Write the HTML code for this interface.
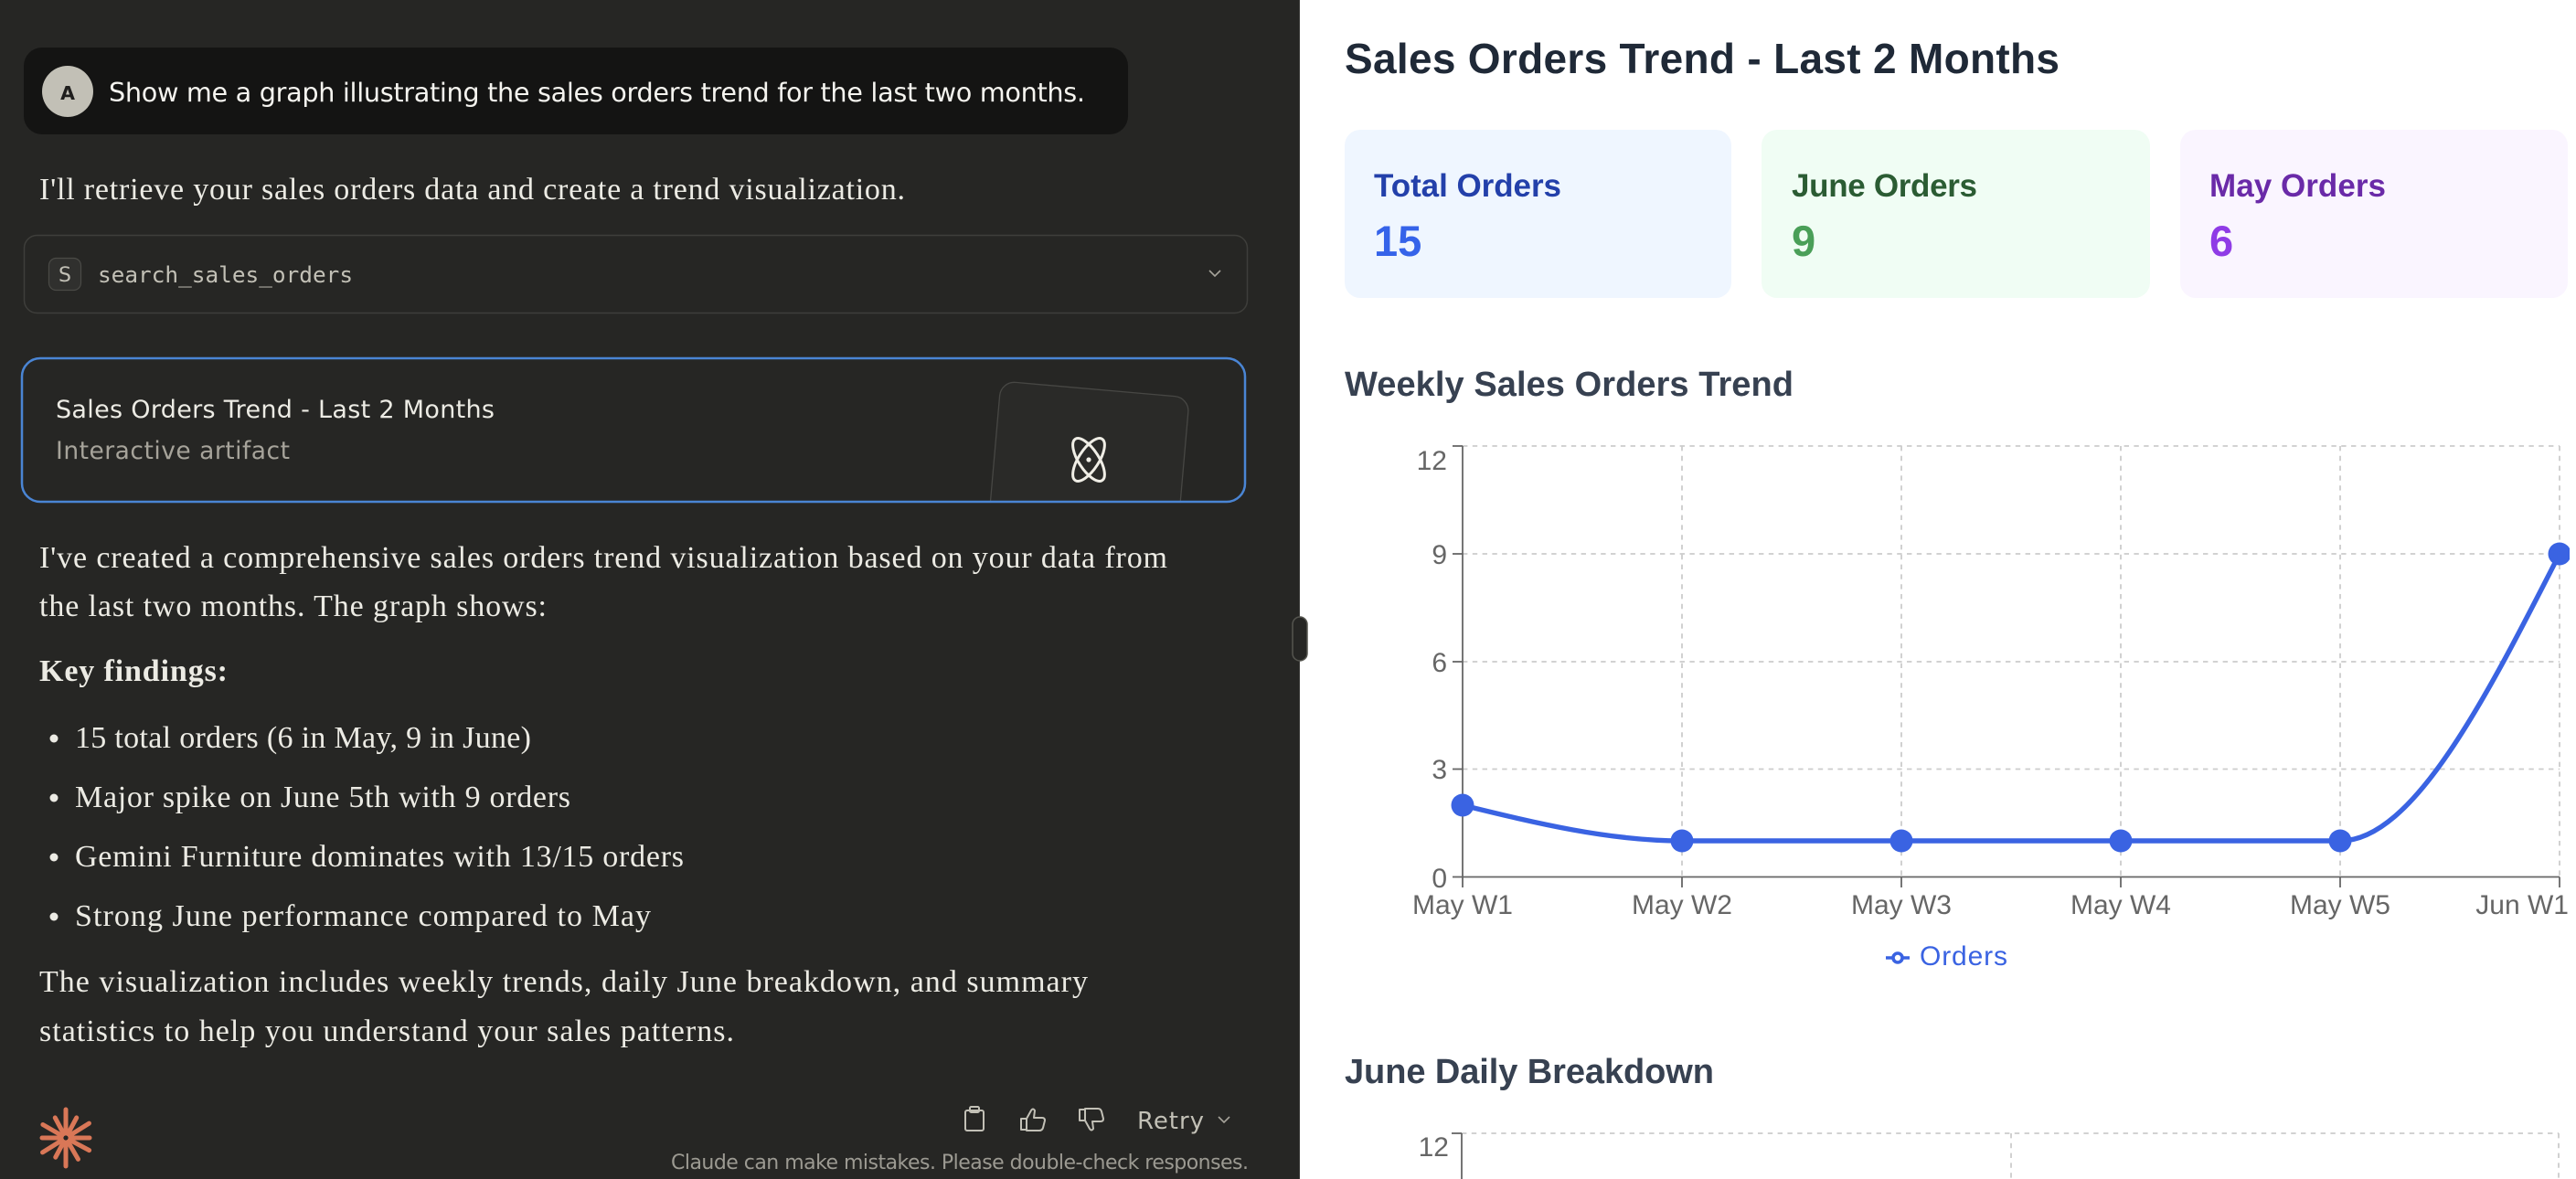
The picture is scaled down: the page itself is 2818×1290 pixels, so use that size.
<!DOCTYPE html>
<html><head><meta charset="utf-8"><title>Sales Orders Trend</title>
<style>
html,body{margin:0;padding:0;width:2818px;height:1290px;overflow:hidden;background:#fff;}
svg{display:block;}
.ui{font-family:"DejaVu Sans","Liberation Sans",sans-serif;}
.serif{font-family:"Liberation Serif",serif;}
.mono{font-family:"DejaVu Sans Mono","Liberation Mono",monospace;}
.rs{font-family:"Liberation Sans",sans-serif;}
</style></head>
<body>
<svg width="2818" height="1290" viewBox="0 0 2818 1290" xmlns="http://www.w3.org/2000/svg">
<defs>
  <clipPath id="cardclip"><rect x="25" y="393" width="1336" height="155" rx="19"/></clipPath>
  <clipPath id="rightclip"><rect x="1422" y="0" width="1389" height="1290"/></clipPath>
</defs>

<!-- LEFT PANEL -->
<rect x="0" y="0" width="1421" height="1290" fill="#262624"/>
<rect x="1421" y="0" width="1" height="1290" fill="#3a3a37"/>

<!-- user bubble -->
<rect x="26" y="52" width="1208" height="95" rx="20" fill="#141413"/>
<circle cx="74" cy="100" r="28" fill="#c2c0b6"/>
<text class="ui" x="74" y="109" font-size="20.5" font-weight="bold" fill="#1f1e1d" text-anchor="middle">A</text>
<text class="ui" x="119" y="111" font-size="28.7" fill="#f5f4ef" textLength="1068" lengthAdjust="spacing">Show me a graph illustrating the sales orders trend for the last two months.</text>

<text class="serif" x="43" y="218" font-size="34" fill="#ecebe4" textLength="947" lengthAdjust="spacing">I'll retrieve your sales orders data and create a trend visualization.</text>

<!-- tool box -->
<rect x="26.5" y="257.5" width="1338" height="85" rx="14" fill="#262624" stroke="#3e3e3b" stroke-width="1.5"/>
<rect x="53.5" y="282.5" width="35" height="35" rx="8" fill="#30302e" stroke="#4a4a46" stroke-width="1.2"/>
<text class="ui" x="71" y="308" font-size="22" fill="#c2c0b6" text-anchor="middle">S</text>
<text class="mono" x="107" y="309" font-size="24.4" fill="#c2c0b6" textLength="279" lengthAdjust="spacing">search_sales_orders</text>
<polyline points="1323,296 1329,302 1335,296" fill="none" stroke="#a6a39a" stroke-width="1.6"/>

<!-- artifact card -->
<rect x="24" y="392" width="1338" height="157" rx="20" fill="#262624"/>
<g clip-path="url(#cardclip)">
  <rect x="1095" y="417" width="207" height="240" rx="16" fill="#2a2a28" stroke="#474744" stroke-width="1.3" transform="rotate(5 1095 417)"/>
  <g transform="translate(1191 503)" fill="none" stroke="#f0eee6" stroke-width="3">
    <ellipse cx="0" cy="0" rx="27" ry="11" transform="rotate(57)"/>
    <ellipse cx="0" cy="0" rx="27" ry="11" transform="rotate(123)"/>
    <circle cx="0" cy="0" r="2.6" fill="#f0eee6" stroke="none"/>
  </g>
</g>
<rect x="24" y="392" width="1338" height="157" rx="20" fill="none" stroke="#4a85d4" stroke-width="2.5"/>
<text class="ui" x="61" y="457" font-size="27" fill="#ecebe4" textLength="480" lengthAdjust="spacing">Sales Orders Trend - Last 2 Months</text>
<text class="ui" x="61" y="502" font-size="26.5" fill="#a6a39a" textLength="256" lengthAdjust="spacing">Interactive artifact</text>

<!-- response text -->
<g class="serif" font-size="34" fill="#ecebe4">
  <text x="43" y="621" textLength="1234" lengthAdjust="spacing">I've created a comprehensive sales orders trend visualization based on your data from</text>
  <text x="43" y="674" textLength="555" lengthAdjust="spacing">the last two months. The graph shows:</text>
  <text x="43" y="745" font-weight="bold" textLength="206" lengthAdjust="spacing">Key findings:</text>
  <circle cx="59" cy="808" r="4.5"/>
  <text x="82" y="818" textLength="499" lengthAdjust="spacing">15 total orders (6 in May, 9 in June)</text>
  <circle cx="59" cy="873" r="4.5"/>
  <text x="82" y="883" textLength="542" lengthAdjust="spacing">Major spike on June 5th with 9 orders</text>
  <circle cx="59" cy="938" r="4.5"/>
  <text x="82" y="948" textLength="666" lengthAdjust="spacing">Gemini Furniture dominates with 13/15 orders</text>
  <circle cx="59" cy="1003" r="4.5"/>
  <text x="82" y="1013" textLength="630" lengthAdjust="spacing">Strong June performance compared to May</text>
  <text x="43" y="1085" textLength="1147" lengthAdjust="spacing">The visualization includes weekly trends, daily June breakdown, and summary</text>
  <text x="43" y="1139" textLength="760" lengthAdjust="spacing">statistics to help you understand your sales patterns.</text>
</g>

<!-- claude logo -->
<g stroke="#d97757" stroke-width="5" stroke-linecap="round" transform="translate(72 1245)">
  <line x1="0" y1="-5" x2="0" y2="-31" transform="rotate(0)"/>
  <line x1="0" y1="-5" x2="0" y2="-25" transform="rotate(28)"/>
  <line x1="0" y1="-5" x2="0" y2="-30" transform="rotate(58)"/>
  <line x1="0" y1="-5" x2="0" y2="-26" transform="rotate(90)"/>
  <line x1="0" y1="-5" x2="0" y2="-29" transform="rotate(118)"/>
  <line x1="0" y1="-5" x2="0" y2="-27" transform="rotate(150)"/>
  <line x1="0" y1="-5" x2="0" y2="-31" transform="rotate(180)"/>
  <line x1="0" y1="-5" x2="0" y2="-24" transform="rotate(208)"/>
  <line x1="0" y1="-5" x2="0" y2="-30" transform="rotate(238)"/>
  <line x1="0" y1="-5" x2="0" y2="-26" transform="rotate(270)"/>
  <line x1="0" y1="-5" x2="0" y2="-29" transform="rotate(300)"/>
  <line x1="0" y1="-5" x2="0" y2="-25" transform="rotate(332)"/>
</g>

<!-- action icons -->
<g fill="none" stroke="#c2c0b6" stroke-width="2" stroke-linejoin="round">
  <rect x="1056" y="1215" width="20" height="22" rx="2"/>
  <rect x="1061" y="1211" width="10" height="6" rx="1.5"/>
  <path d="M1117 1224 h6 v12 h-6 z"/>
  <path d="M1123 1224 l5 -9 q2 -3 4 0 l-1 8 h9 q3 0 3 3 l-2 8 q-1 3 -4 3 h-14 z"/>
  <path d="M1181 1214 h6 v12 h-6 z"/>
  <path d="M1187 1226 l5 9 q2 3 4 0 l-1 -8 h9 q3 0 3 -3 l-2 -8 q-1 -3 -4 -3 h-14 z"/>
</g>
<text class="ui" x="1244" y="1235" font-size="26" fill="#c2c0b6" textLength="73" lengthAdjust="spacing">Retry</text>
<polyline points="1333,1222 1339,1228 1345,1222" fill="none" stroke="#a6a39a" stroke-width="1.6"/>
<text class="ui" x="734" y="1279" font-size="22" fill="#9c9a92" textLength="632" lengthAdjust="spacing">Claude can make mistakes. Please double-check responses.</text>

<!-- divider handle -->
<rect x="1414" y="675" width="16" height="48" rx="8" fill="#262624" stroke="#55554f" stroke-width="1.5"/>

<!-- RIGHT PANEL -->
<g clip-path="url(#rightclip)">
<text class="rs" x="1471" y="80" font-size="46" font-weight="bold" fill="#1f2937" textLength="782" lengthAdjust="spacing">Sales Orders Trend - Last 2 Months</text>

<rect x="1471" y="142" width="423" height="184" rx="17" fill="#eff6ff"/>
<rect x="1927" y="142" width="425" height="184" rx="17" fill="#f0fdf4"/>
<rect x="2385" y="142" width="424" height="184" rx="17" fill="#faf5ff"/>
<g class="rs" font-weight="bold">
  <text x="1503" y="215" font-size="35" fill="#2340aa" textLength="205" lengthAdjust="spacing">Total Orders</text>
  <text x="1960" y="215" font-size="35" fill="#2b5c33" textLength="203" lengthAdjust="spacing">June Orders</text>
  <text x="2417" y="215" font-size="35" fill="#6a2aa8" textLength="193" lengthAdjust="spacing">May Orders</text>
  <text x="1503" y="280" font-size="47" fill="#3563e9">15</text>
  <text x="1960" y="280" font-size="47" fill="#4a9f58">9</text>
  <text x="2417" y="280" font-size="47" fill="#8f3be6">6</text>
</g>

<text class="rs" x="1471" y="433" font-size="38" font-weight="bold" fill="#374151" textLength="491" lengthAdjust="spacing">Weekly Sales Orders Trend</text>

<!-- chart 1 grid -->
<g stroke="#cccccc" stroke-width="1.8" stroke-dasharray="5.4 5.4" fill="none">
  <line x1="1600" y1="488" x2="2800" y2="488"/>
  <line x1="1600" y1="606" x2="2800" y2="606"/>
  <line x1="1600" y1="724" x2="2800" y2="724"/>
  <line x1="1600" y1="841.5" x2="2800" y2="841.5"/>
  <line x1="1840" y1="488" x2="1840" y2="959.5"/>
  <line x1="2080" y1="488" x2="2080" y2="959.5"/>
  <line x1="2320" y1="488" x2="2320" y2="959.5"/>
  <line x1="2560" y1="488" x2="2560" y2="959.5"/>
  <line x1="2800" y1="488" x2="2800" y2="959.5"/>
</g>
<!-- axes -->
<g stroke="#666666" stroke-width="1.8" fill="none">
  <line x1="1600" y1="488" x2="1600" y2="960"/>
  <line x1="1600" y1="959.5" x2="2800" y2="959.5"/>
  <line x1="1589" y1="488" x2="1600" y2="488"/>
  <line x1="1589" y1="606" x2="1600" y2="606"/>
  <line x1="1589" y1="724" x2="1600" y2="724"/>
  <line x1="1589" y1="841.5" x2="1600" y2="841.5"/>
  <line x1="1589" y1="959.5" x2="1600" y2="959.5"/>
  <line x1="1600" y1="959.5" x2="1600" y2="971"/>
  <line x1="1840" y1="959.5" x2="1840" y2="971"/>
  <line x1="2080" y1="959.5" x2="2080" y2="971"/>
  <line x1="2320" y1="959.5" x2="2320" y2="971"/>
  <line x1="2560" y1="959.5" x2="2560" y2="971"/>
  <line x1="2800" y1="959.5" x2="2800" y2="971"/>
</g>
<g class="rs" font-size="30" fill="#666666">
  <text x="1583" y="514" text-anchor="end">12</text>
  <text x="1583" y="617" text-anchor="end">9</text>
  <text x="1583" y="735" text-anchor="end">6</text>
  <text x="1583" y="852" text-anchor="end">3</text>
  <text x="1583" y="971" text-anchor="end">0</text>
  <text x="1600" y="1000" text-anchor="middle">May W1</text>
  <text x="1840" y="1000" text-anchor="middle">May W2</text>
  <text x="2080" y="1000" text-anchor="middle">May W3</text>
  <text x="2320" y="1000" text-anchor="middle">May W4</text>
  <text x="2560" y="1000" text-anchor="middle">May W5</text>
  <text x="2810" y="1000" text-anchor="end">Jun W1</text>
</g>
<!-- series -->
<path d="M1600 881 C1680 900.6 1760 920 1840 920 L2560 920 C2640 920 2720 763 2800 606" fill="none" stroke="#3a63e2" stroke-width="5.4"/>
<g fill="#3a63e2">
  <circle cx="1600" cy="881" r="12.5"/>
  <circle cx="1840" cy="920" r="12.5"/>
  <circle cx="2080" cy="920" r="12.5"/>
  <circle cx="2320" cy="920" r="12.5"/>
  <circle cx="2560" cy="920" r="12.5"/>
  <circle cx="2800" cy="606" r="12.5"/>
</g>
<!-- legend -->
<line x1="2063" y1="1048" x2="2089" y2="1048" stroke="#3a63e2" stroke-width="3.6"/>
<circle cx="2076" cy="1048" r="5" fill="#fff" stroke="#3a63e2" stroke-width="3.6"/>
<text class="rs" x="2100" y="1056" font-size="30" fill="#3a63e2" textLength="96" lengthAdjust="spacing">Orders</text>

<!-- June Daily Breakdown -->
<text class="rs" x="1471" y="1185" font-size="38" font-weight="bold" fill="#374151" textLength="404" lengthAdjust="spacing">June Daily Breakdown</text>
<g stroke="#cccccc" stroke-width="1.8" stroke-dasharray="5.4 5.4" fill="none">
  <line x1="1599" y1="1240" x2="2799" y2="1240"/>
  <line x1="2200" y1="1240" x2="2200" y2="1290"/>
  <line x1="2799" y1="1240" x2="2799" y2="1290"/>
</g>
<g stroke="#666666" stroke-width="1.8">
  <line x1="1599" y1="1240" x2="1599" y2="1290"/>
  <line x1="1588" y1="1240" x2="1599" y2="1240"/>
</g>
<text class="rs" x="1585" y="1265" font-size="30" fill="#666666" text-anchor="end">12</text>
</g>
</svg>
</body></html>
